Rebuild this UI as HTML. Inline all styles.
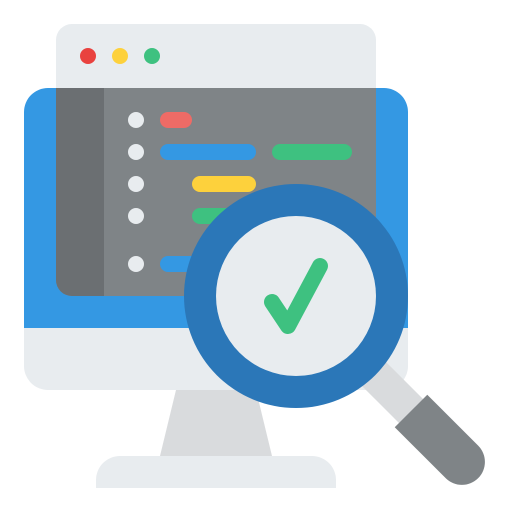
<html><body style="margin:0;background:#fff">
<svg width="512" height="512" viewBox="0 0 512 512">
<path d="M48 88H384A24 24 0 0 1 408 112V328H24V112A24 24 0 0 1 48 88Z" fill="#3498e3"/>
<path d="M24 328H408V366A24 24 0 0 1 384 390H48A24 24 0 0 1 24 366Z" fill="#e8ecef"/>
<path d="M176 390H256L272 456H160Z" fill="#d9dbdd"/>
<path d="M120 456H312A24 24 0 0 1 336 480V488H96V480A24 24 0 0 1 120 456Z" fill="#e8ecef"/>
<path d="M56 88H376V296H72A16 16 0 0 1 56 280Z" fill="#7f8487"/>
<path d="M56 88H104V296H72A16 16 0 0 1 56 280Z" fill="#6b6f72"/>
<path d="M72 24H360A16 16 0 0 1 376 40V88H56V40A16 16 0 0 1 72 24Z" fill="#e8ecef"/>
<circle cx="88" cy="56" r="8" fill="#e9423f"/><circle cx="120" cy="56" r="8" fill="#fdd13c"/><circle cx="152" cy="56" r="8" fill="#3ec180"/>
<g fill="#e8ecef"><circle cx="136" cy="120" r="8"/><circle cx="136" cy="152" r="8"/><circle cx="136" cy="184" r="8"/><circle cx="136" cy="216" r="8"/><circle cx="136" cy="264" r="8"/></g>
<g stroke-width="16" stroke-linecap="round">
<line x1="168" y1="120" x2="184" y2="120" stroke="#ee6b66"/>
<line x1="168" y1="152" x2="248" y2="152" stroke="#3498e3"/>
<line x1="280" y1="152" x2="344" y2="152" stroke="#3ec180"/>
<line x1="200" y1="184" x2="248" y2="184" stroke="#fdd13c"/>
<line x1="200" y1="216" x2="260" y2="216" stroke="#3ec180"/>
<line x1="168" y1="264" x2="230" y2="264" stroke="#3498e3"/>
</g>
<line x1="296" y1="296" x2="412" y2="412" stroke="#d9dbdd" stroke-width="34"/>
<g transform="translate(411 411) rotate(45)"><path d="M0 -23H72A23 23 0 0 1 72 23H0Z" fill="#7f8487"/></g>
<circle cx="296" cy="296" r="112" fill="#2b77b8"/>
<circle cx="296" cy="296" r="80" fill="#e8ecef"/>
<polyline points="272,302 288,326 320,266" fill="none" stroke="#3ec180" stroke-width="16" stroke-linecap="round" stroke-linejoin="round"/>
</svg>
</body></html>
